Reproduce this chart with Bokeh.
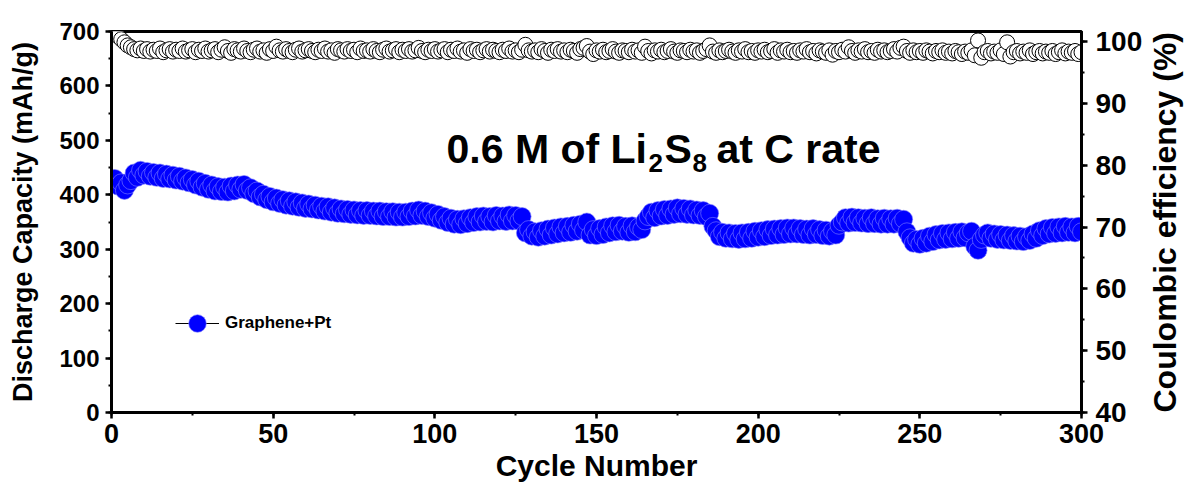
import math
from bokeh.plotting import figure
from bokeh.models import (Range1d, LinearAxis, SingleIntervalTicker, Label,
                          Legend, LegendItem, ColumnDataSource)
from bokeh.embed import file_html
from bokeh.resources import INLINE

# ---------------- data ----------------
cycles = list(range(1, 301))

capacity = [
    430, 416, 422, 408, 418, 426, 440, 432, 445, 436,
    443, 434, 441, 432, 440, 430, 438, 429, 436, 427,
    434, 425, 431, 422, 428, 418, 425, 414, 421, 410,
    418, 407, 415, 406, 414, 405, 416, 407, 418, 410,
    419, 408, 413, 402, 407, 396, 401, 391, 397, 387,
    394, 384, 391, 381, 389, 379, 387, 377, 385, 375,
    383, 374, 381, 372, 379, 370, 378, 368, 376, 366,
    374, 365, 373, 364, 372, 363, 371, 362, 371, 362,
    370, 361, 370, 360, 369, 360, 369, 359, 368, 359,
    368, 360, 370, 361, 372, 362, 370, 360, 367, 357,
    364, 353, 360, 349, 357, 346, 355, 345, 356, 347,
    358, 349, 360, 350, 361, 351, 360, 350, 362, 352,
    361, 351, 363, 352, 362, 352, 360, 330, 336, 324,
    332, 322, 334, 324, 337, 326, 339, 328, 341, 330,
    342, 331, 344, 333, 346, 335, 350, 326, 336, 325,
    338, 327, 341, 330, 343, 332, 344, 333, 342, 331,
    343, 332, 341, 336, 352, 360, 368, 358, 371, 361,
    373, 362, 374, 364, 376, 365, 375, 364, 374, 363,
    372, 362, 371, 360, 366, 342, 334, 323, 331, 320,
    330, 319, 329, 318, 330, 319, 331, 320, 333, 322,
    334, 323, 336, 325, 337, 326, 338, 327, 339, 328,
    339, 328, 338, 327, 337, 326, 338, 327, 336, 325,
    335, 324, 333, 326, 344, 350, 358, 348, 359, 349,
    358, 348, 357, 347, 358, 347, 356, 346, 357, 346,
    356, 346, 357, 347, 355, 332, 321, 311, 318, 309,
    320, 311, 324, 314, 327, 317, 329, 318, 330, 319,
    331, 320, 332, 321, 330, 333, 305, 298, 318, 326,
    330, 320, 328, 318, 327, 317, 326, 316, 325, 315,
    324, 314, 323, 316, 328, 320, 334, 325, 338, 328,
    340, 329, 341, 330, 342, 331, 341, 330, 342, 332,
]

efficiency = [
    101.3, 100.9, 100.4, 99.9, 99.4, 99.1, 98.8, 98.6, 98.9, 98.5,
    98.8, 98.4, 98.7, 98.5, 98.9, 98.3, 98.6, 98.8, 98.4, 98.7,
    98.5, 98.9, 98.4, 98.6, 98.8, 98.3, 98.7, 98.5, 98.9, 98.4,
    98.6, 98.8, 98.3, 98.7, 99.1, 98.5, 98.2, 98.8, 98.6, 98.4,
    98.9, 98.5, 98.3, 98.7, 98.9, 98.4, 98.6, 98.2, 98.8, 98.5,
    99.2, 98.6, 98.4, 98.8, 98.5, 98.3, 98.7, 98.9, 98.4, 98.6,
    98.8, 98.5, 98.3, 98.7, 98.5, 98.9, 98.4, 98.6, 98.2, 98.8,
    98.6, 98.4, 98.8, 98.5, 98.7, 98.3, 98.9, 98.5, 98.6, 98.4,
    98.8, 98.5, 98.3, 98.7, 98.9, 98.4, 98.6, 98.8, 98.3, 98.7,
    98.5, 98.8, 98.4, 98.6, 99.0, 98.5, 98.3, 98.7, 98.5, 98.8,
    98.4, 98.6, 98.8, 98.3, 98.7, 98.5, 98.9, 98.4, 98.6, 98.2,
    98.8, 98.5, 98.7, 98.3, 98.6, 98.8, 98.4, 98.7, 98.5, 98.3,
    98.7, 98.5, 98.9, 98.4, 98.6, 98.3, 98.7, 99.5, 98.6, 98.4,
    98.6, 98.3, 98.8, 98.5, 98.2, 98.7, 98.5, 98.8, 98.4, 98.6,
    98.3, 98.7, 98.5, 98.2, 98.8, 99.0, 99.3, 98.4, 98.0, 98.6,
    98.4, 98.7, 98.3, 98.5, 98.8, 98.4, 98.2, 98.6, 98.5, 98.3,
    98.7, 98.4, 98.6, 98.2, 99.2, 98.5, 98.1, 98.6, 98.4, 98.7,
    98.3, 98.5, 98.8, 98.4, 98.2, 98.6, 98.5, 98.3, 98.7, 98.4,
    98.6, 98.2, 98.5, 98.8, 99.4, 98.4, 98.2, 98.6, 98.3, 98.5,
    98.7, 98.4, 98.2, 98.6, 98.4, 98.8, 98.3, 98.5, 98.2, 98.6,
    98.4, 98.7, 98.3, 98.5, 98.8, 98.2, 98.6, 98.4, 98.7, 98.3,
    98.5, 98.2, 98.6, 98.4, 98.8, 98.3, 98.5, 98.1, 98.6, 98.4,
    98.2, 98.6, 97.9, 98.5, 98.3, 98.7, 98.4, 99.1, 98.5, 98.2,
    98.6, 98.4, 98.8, 98.3, 98.5, 98.2, 98.7, 98.4, 98.6, 98.3,
    98.5, 98.8, 98.4, 99.0, 99.2, 98.5, 98.2, 98.6, 98.3, 98.5,
    98.2, 98.6, 98.4, 98.1, 98.5, 98.3, 98.6, 98.2, 98.4, 98.1,
    98.5, 98.3, 98.0, 98.4, 98.2, 98.6, 97.8, 100.2, 97.4, 98.3,
    98.5, 98.1, 98.4, 98.2, 98.6, 98.0, 99.9, 97.6, 98.3, 98.5,
    98.1, 98.4, 98.2, 98.6, 98.0, 98.3, 98.5, 98.1, 98.4, 98.2,
    98.5, 98.0, 98.3, 98.6, 98.1, 98.4, 98.2, 98.5, 98.0, 98.3,
]

series_label = "Graphene+Pt"
x_title = "Cycle Number"
y_title = "Discharge Capacity (mAh/g)"
y2_title = "Coulombic efficiency (%)"

FONT = "Liberation Sans"

src = ColumnDataSource(dict(cycle=cycles, cap=capacity, ce=efficiency))

p = figure(width=1204, height=486, output_backend="svg", toolbar_location=None,
           x_range=Range1d(0, 300), y_range=Range1d(0, 700),
           min_border_left=111, min_border_right=123,
           min_border_top=31, min_border_bottom=74)
p.extra_y_ranges = {"ce": Range1d(40, 101.65)}
p.grid.visible = False
p.outline_line_color = "black"
p.outline_line_width = 3
p.background_fill_color = "white"
p.border_fill_color = "white"

right = LinearAxis(y_range_name="ce",
                   ticker=SingleIntervalTicker(interval=10, num_minor_ticks=2))
p.add_layout(right, "right")

p.xaxis[0].ticker = SingleIntervalTicker(interval=50, num_minor_ticks=2)
p.yaxis[0].ticker = SingleIntervalTicker(interval=100, num_minor_ticks=2)

def style(ax, tick_size, label_size, lab_stand, ax_stand):
    ax.axis_line_width = 3
    ax.axis_line_color = "black"
    ax.major_tick_line_width = 2.5
    ax.major_tick_out = 6
    ax.major_tick_in = 0
    ax.minor_tick_line_width = 2
    ax.minor_tick_out = 3
    ax.minor_tick_in = 0
    ax.major_label_text_font = FONT
    ax.major_label_text_font_style = "bold"
    ax.major_label_text_font_size = tick_size
    ax.major_label_text_color = "black"
    ax.axis_label_text_font = FONT
    ax.axis_label_text_font_style = "bold"
    ax.axis_label_text_font_size = label_size
    ax.axis_label_text_color = "black"
    ax.major_label_standoff = lab_stand
    ax.axis_label_standoff = ax_stand

xa = p.xaxis[0]
ya = p.yaxis[0]
style(xa, "27px", "30px", 5, 3)
style(ya, "24px", "27px", 6, 18)
style(right, "28px", "32px", 8, 20)
xa.axis_label = x_title
ya.axis_label = y_title
right.axis_label = y2_title
# read the right-axis title from bottom to top; it is drawn from its start,
# so anchor that start at the bottom end of the axis
right.axis_label_orientation = math.pi / 2
if hasattr(right, "axis_label_align"):
    right.axis_label_align = "start"

# coulombic efficiency (right axis)
p.scatter("cycle", "ce", source=src, y_range_name="ce", size=15,
          fill_color="white", line_color="black", line_width=1)

# discharge capacity (left axis)
line_r = p.line("cycle", "cap", source=src, line_color="black", line_width=1)
cap_r = p.scatter("cycle", "cap", source=src, size=18, fill_color="#0000ff",
                  line_color="#8080ff", line_alpha=0.6, line_width=1)

legend = Legend(items=[LegendItem(label=series_label, renderers=[line_r, cap_r])],
                location=(64, 66), padding=0, margin=0, spacing=0,
                glyph_width=44, glyph_height=46, label_standoff=6,
                border_line_alpha=0, background_fill_alpha=0,
                label_text_font=FONT, label_text_font_style="bold",
                label_text_font_size="17px", label_text_color="black")
p.add_layout(legend)

# annotation title: "0.6 M of Li2S8 at C rate"
def lab(txt, x, y, size):
    p.add_layout(Label(x=x, y=y, x_units="screen", y_units="screen", text=txt,
                       text_font=FONT, text_font_style="bold",
                       text_font_size=size, text_color="black",
                       text_baseline="alphabetic", text_align="left"))

lab("0.6 M of Li", 335, 264, "41px")
lab("2", 537, 250, "26px")
lab("S", 553, 264, "41px")
lab("8", 581, 250, "26px")
lab("at C rate", 605, 264, "41px")

open("out.html", "w").write(file_html(p, INLINE))
